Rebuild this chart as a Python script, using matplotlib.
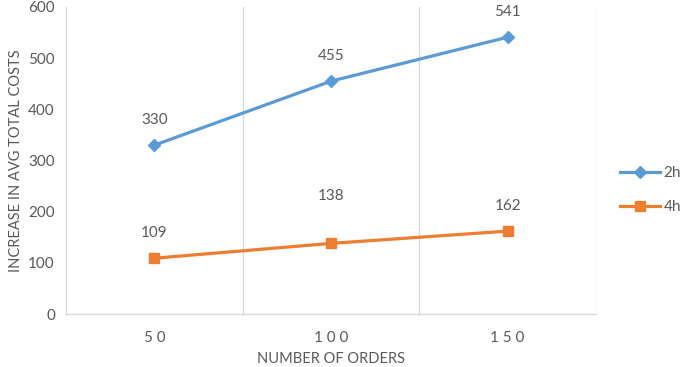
import matplotlib
matplotlib.use("Agg")
import matplotlib.pyplot as plt
from matplotlib.ticker import FixedLocator

plt.rcParams['font.family'] = ['Lato', 'DejaVu Sans']

categories = ["5 0", "1 0 0", "1 5 0"]
series_2h = [330, 455, 541]
series_4h = [109, 138, 162]
yticks = [0, 100, 200, 300, 400, 500, 600]

blue = "#5B9BD5"
orange = "#ED7D31"
txt = "#595959"
grid = "#D9D9D9"

fig = plt.figure(figsize=(6.85, 3.67), dpi=100)
ax = fig.add_axes([66/685, 53/367, (596-66)/685, (314-7)/367])

x = list(range(len(categories)))
ax.plot(x, series_2h, color=blue, lw=2.3, marker='D', ms=6.5, label="2h", zorder=3)
ax.plot(x, series_4h, color=orange, lw=2.3, marker='s', ms=7.5, label="4h", zorder=3)

off_2h = [18, 18, 18]
off_4h = [18, 34, 18]
for xi, v, o in zip(x, series_2h, off_2h):
    ax.annotate(str(v), (xi, v), xytext=(0, o), textcoords='offset points',
                ha='center', va='center', color=txt, fontsize=11)
for xi, v, o in zip(x, series_4h, off_4h):
    ax.annotate(str(v), (xi, v), xytext=(0, o), textcoords='offset points',
                ha='center', va='center', color=txt, fontsize=11)

ax.set_xlim(-0.5, 2.5)
ax.set_ylim(0, 600)
ax.set_yticks(yticks)
ax.set_xticks(x)
ax.set_xticklabels(categories)
ax.xaxis.set_minor_locator(FixedLocator([0.5, 1.5, 2.5]))
ax.grid(True, axis='x', which='minor', color=grid, lw=1)
ax.tick_params(axis='both', which='both', length=0, colors=txt, labelsize=11)
ax.tick_params(axis='x', pad=12)
ax.tick_params(axis='y', pad=8)

for s in ['top', 'right']:
    ax.spines[s].set_visible(False)
ax.spines['left'].set_color(grid)
ax.spines['bottom'].set_color(grid)
ax.spines['left'].set_linewidth(1)
ax.spines['bottom'].set_linewidth(1)

ax.set_xlabel("NUMBER OF ORDERS", color=txt, fontsize=10.5, labelpad=5)
ax.set_ylabel("INCREASE IN AVG TOTAL COSTS", color=txt, fontsize=10.5, labelpad=4)

leg = fig.legend(loc='center left', bbox_to_anchor=(620/685, 1 - 190/367), frameon=False,
                 fontsize=11, handlelength=2.6, labelspacing=1.3, handletextpad=0.25,
                 borderpad=0, borderaxespad=0)
for t in leg.get_texts():
    t.set_color(txt)

fig.savefig("out.png", dpi=100)
